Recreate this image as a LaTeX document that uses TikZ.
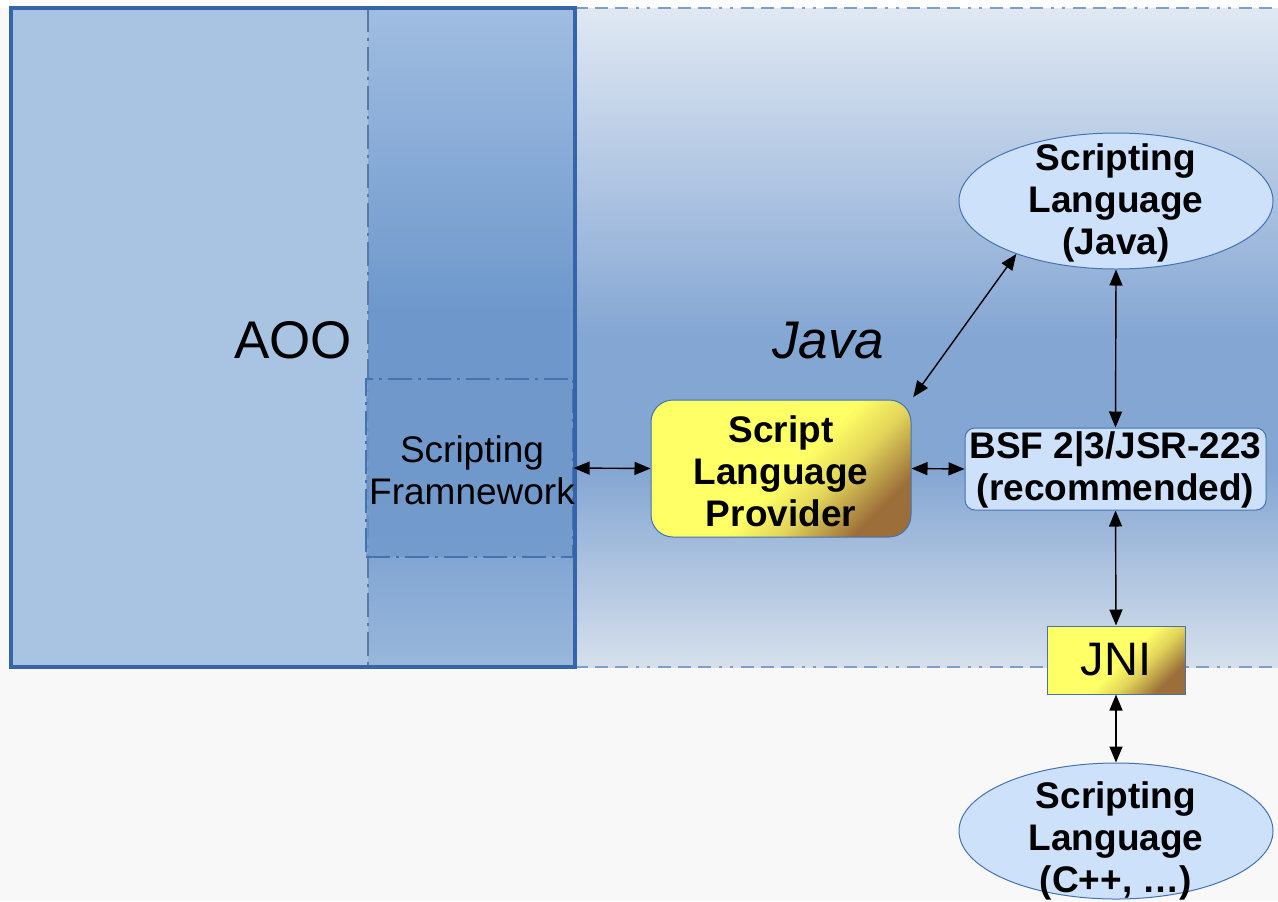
\documentclass[tikz,border=0pt]{standalone}
\usepackage{fontspec}
\setmainfont{Liberation Sans}
\usetikzlibrary{arrows.meta,shapes.geometric}
\definecolor{bgtop}{HTML}{E0E8F3}
\definecolor{bgmid}{HTML}{84A6D3}
\definecolor{bgbot}{HTML}{D6E0EC}
\definecolor{aoofill}{HTML}{A9C4E2}
\definecolor{coltop}{HTML}{A0BDE1}
\definecolor{colmid}{HTML}{6E98CC}
\definecolor{colbot}{HTML}{9AB7DB}
\definecolor{sffill}{HTML}{7199CB}
\definecolor{ylw}{HTML}{FFFF66}
\definecolor{brn}{HTML}{9C6F3A}
\definecolor{blfill}{HTML}{CDE1FB}
\definecolor{bordblue}{HTML}{4373B3}
\definecolor{aooborder}{HTML}{3565A8}
\definecolor{dashblue}{HTML}{7F9FC8}
\definecolor{pagebg}{HTML}{F8F8F8}
\pgfdeclareverticalshading{bgsh}{100bp}{color(0bp)=(bgbot); color(25bp)=(bgbot); color(40bp)=(bgmid); color(50bp)=(bgmid); color(75bp)=(bgtop); color(100bp)=(bgtop)}
\pgfdeclareverticalshading{colsh}{100bp}{color(0bp)=(colbot); color(25bp)=(colbot); color(40bp)=(colmid); color(52bp)=(colmid); color(75bp)=(coltop); color(100bp)=(coltop)}
\pgfdeclarehorizontalshading{ybr}{100bp}{color(0bp)=(ylw); color(25bp)=(ylw); color(52bp)=(ylw); color(62bp)=(ylw!70!brn); color(75bp)=(brn); color(100bp)=(brn)}
\tikzset{
  bigdashdot/.style={dash pattern=on 6.5pt off 3.5pt on 6.5pt off 3.5pt on 6.5pt off 4pt on 1.5pt off 4pt on 1.5pt off 4pt},
  sepline/.style={draw=dashblue, line width=1pt, bigdashdot},
  boldtxt/.style={font=\bfseries\fontsize{18.5}{21}\selectfont, align=center, inner sep=0pt},
  yellowbox/.style={draw=bordblue, line width=0.5pt, shading=ybr, shading angle=-45, inner sep=0pt},
  bluebox/.style={draw=bordblue, line width=0.5pt, fill=blfill, inner sep=0pt},
  arr/.style={{Triangle[length=8pt,width=6.5pt]}-{Triangle[length=8pt,width=6.5pt]}, line width=0.7pt, black},
}
\begin{document}
\begin{tikzpicture}[x=0.5pt,y=-0.5pt]
\useasboundingbox (0,0) rectangle (1278,901);
% page background
\fill[pagebg] (0,0) rectangle (1278,901);
\fill[white] (0,0) rectangle (1278,8);
\shade[shading=bgsh] (575,8) rectangle (1278,667);
\draw[sepline] (575,8) -- (1278,8);
\draw[sepline] (575,667) -- (1278,667);
% AOO box
\fill[aoofill] (11,8) rectangle (368,667);
\shade[shading=colsh] (368,8) rectangle (575,667);
\draw[draw=sffill!80!black, line width=0.6pt, dash pattern=on 12pt off 3pt on 1.5pt off 3pt] (368,8) -- (368,667);
\node[draw=bordblue, line width=0.6pt, dash pattern=on 12pt off 3pt on 1.5pt off 3pt, fill=sffill, fill opacity=0.8, draw opacity=1, minimum width=103.5pt, minimum height=89pt, inner sep=0pt] (sf) at (469.5,468) {};
\draw[aooborder, line width=2pt] (11,8) rectangle (575,667);
\node[font=\fontsize{26.5}{30}\selectfont, inner sep=0pt] (aoo) at (293,340) {AOO};
\node[font=\fontsize{18.5}{21}\selectfont, align=center, inner sep=0pt] (sftext) at (472,470) {Scripting\\Framnework};
% Java label
\node[font=\itshape\fontsize{26.5}{30}\selectfont, inner sep=0pt] (java) at (828,341) {Java};
% Script Language Provider
\node[yellowbox, rounded corners=11pt, minimum width=130pt, minimum height=68.5pt] (slp) at (781,468.5) {};
\node[boldtxt] (slptext) at (781,471) {Script\\Language\\Provider};
% BSF
\node[bluebox, rounded corners=5pt, minimum width=150.5pt, minimum height=41pt] (bsf) at (1115.5,469) {};
\node[boldtxt] (bsftext) at (1115.5,470) {BSF 2|3/JSR-223\\(recommended)};
% top ellipse
\node[bluebox, ellipse, minimum width=157pt, minimum height=68pt] (elltop) at (1116,201) {};
\node[boldtxt] (elltoptext) at (1116,203) {Scripting\\Language\\(Java)};
% JNI
\node[yellowbox, minimum width=69pt, minimum height=34pt] (jni) at (1116,660) {};
\node[font=\fontsize{23.5}{27}\selectfont, inner sep=0pt] (jnitext) at (1116,660) {JNI};
% bottom ellipse
\node[bluebox, ellipse, minimum width=157pt, minimum height=68pt] (ellbot) at (1116,831) {};
\node[boldtxt] (ellbottext) at (1116,841) {Scripting\\Language\\(C++, …)};
% connectors
\draw[arr] (sf.east) -- (slp.west);
\draw[arr] (slp.east) -- (bsf.west);
\draw[arr, shorten <=1.5pt] (slp.north east) -- (elltop.208);
\draw[arr] (elltop.south) -- (bsf.north);
\draw[arr] (bsf.south) -- (jni.north);
\draw[arr] (jni.south) -- (ellbot.north);
\end{tikzpicture}
\end{document}
